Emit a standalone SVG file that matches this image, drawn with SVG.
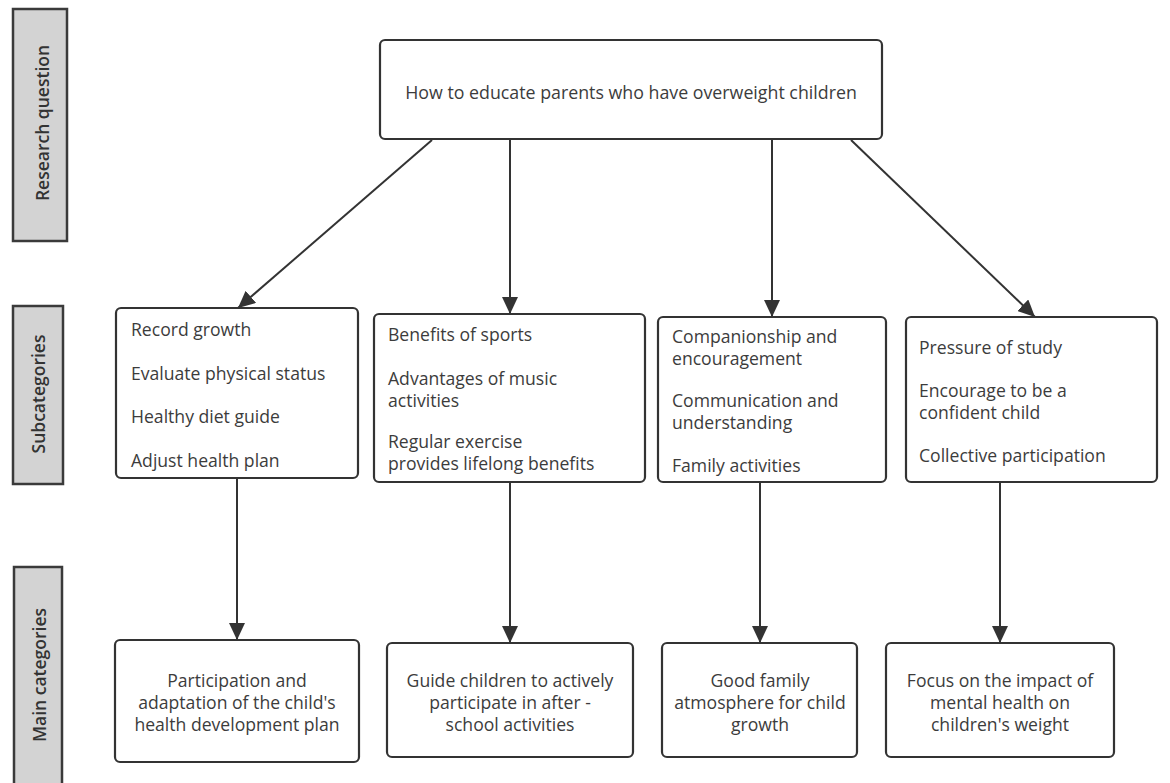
<svg xmlns="http://www.w3.org/2000/svg" width="1170" height="783" viewBox="0 0 1170 783">
<style>
.lbl{fill:#d3d3d3;stroke:#3a3a3a;stroke-width:2.5}
.lt{font-family:"Open Sans","Noto Sans",sans-serif;font-size:17.5px;font-weight:600;fill:#333;text-anchor:middle}
.box{fill:#fff;stroke:#333;stroke-width:2.2}
.t{font-family:"Open Sans","Noto Sans",sans-serif;font-size:17.6px;fill:#3c3c3c}
.c{text-anchor:middle}
.e{stroke:#333;stroke-width:2;fill:none;marker-end:url(#ah)}
</style>
<defs>
<marker id="ah" markerUnits="userSpaceOnUse" markerWidth="17" markerHeight="16" viewBox="0 0 17 16" refX="17" refY="8" orient="auto">
<path d="M0,0 L17,8 L0,16 Z" fill="#333"/>
</marker>
</defs>
<rect width="1170" height="783" fill="#fff"/>
<g id="label-research">
<rect class="lbl" x="13" y="9" width="54" height="232"/>
<text class="lt" transform="translate(49,123) rotate(-90)">Research question</text>
</g>
<g id="label-sub">
<rect class="lbl" x="13" y="306" width="50" height="178"/>
<text class="lt" transform="translate(45,394) rotate(-90)">Subcategories</text>
</g>
<g id="label-main">
<rect class="lbl" x="14" y="567" width="48" height="230"/>
<text class="lt" transform="translate(46,675) rotate(-90)">Main categories</text>
</g>
<g id="edges">
<line class="e" x1="432" y1="140" x2="238" y2="308"/>
<line class="e" x1="510" y1="140" x2="510" y2="314"/>
<line class="e" x1="772" y1="140" x2="772" y2="317"/>
<line class="e" x1="851" y1="140" x2="1035" y2="317"/>
<line class="e" x1="237" y1="478" x2="237" y2="640"/>
<line class="e" x1="510" y1="482" x2="510" y2="643"/>
<line class="e" x1="760" y1="482" x2="760" y2="643"/>
<line class="e" x1="1000" y1="482" x2="1000" y2="643"/>
</g>
<g id="top">
<rect class="box" x="380" y="40" width="502" height="99" rx="5"/>
<text class="t c" x="631" y="99" style="font-size:17.8px">How to educate parents who have overweight children</text>
</g>
<g id="sub1">
<rect class="box" x="116" y="308" width="242" height="170" rx="5"/>
<text class="t" x="131" y="336">Record growth</text>
<text class="t" x="131" y="380">Evaluate physical status</text>
<text class="t" x="131" y="423">Healthy diet guide</text>
<text class="t" x="131" y="467">Adjust health plan</text>
</g>
<g id="sub2">
<rect class="box" x="374" y="314" width="271" height="168" rx="5"/>
<text class="t" x="388" y="341">Benefits of sports</text>
<text class="t" x="388" y="385">Advantages of music</text>
<text class="t" x="388" y="407">activities</text>
<text class="t" x="388" y="448">Regular exercise</text>
<text class="t" x="388" y="470">provides lifelong benefits</text>
</g>
<g id="sub3">
<rect class="box" x="658" y="317" width="228" height="165" rx="5"/>
<text class="t" x="672" y="343">Companionship and</text>
<text class="t" x="672" y="365">encouragement</text>
<text class="t" x="672" y="407">Communication and</text>
<text class="t" x="672" y="429">understanding</text>
<text class="t" x="672" y="472">Family activities</text>
</g>
<g id="sub4">
<rect class="box" x="906" y="317" width="251" height="165" rx="5"/>
<text class="t" x="919" y="354">Pressure of study</text>
<text class="t" x="919" y="397">Encourage to be a</text>
<text class="t" x="919" y="419">confident child</text>
<text class="t" x="919" y="462">Collective participation</text>
</g>
<g id="main1">
<rect class="box" x="115" y="640" width="244" height="122" rx="5"/>
<text class="t c" x="237" y="687">Participation and</text>
<text class="t c" x="237" y="709">adaptation of the child's</text>
<text class="t c" x="237" y="731">health development plan</text>
</g>
<g id="main2">
<rect class="box" x="387" y="643" width="246" height="114" rx="5"/>
<text class="t c" x="510" y="687">Guide children to actively</text>
<text class="t c" x="510" y="709">participate in after -</text>
<text class="t c" x="510" y="731">school activities</text>
</g>
<g id="main3">
<rect class="box" x="662" y="643" width="195" height="114" rx="5"/>
<text class="t c" x="760" y="687">Good family</text>
<text class="t c" x="760" y="709">atmosphere for child</text>
<text class="t c" x="760" y="731">growth</text>
</g>
<g id="main4">
<rect class="box" x="886" y="643" width="228" height="114" rx="5"/>
<text class="t c" x="1000" y="687">Focus on the impact of</text>
<text class="t c" x="1000" y="709">mental health on</text>
<text class="t c" x="1000" y="731">children's weight</text>
</g>
</svg>
